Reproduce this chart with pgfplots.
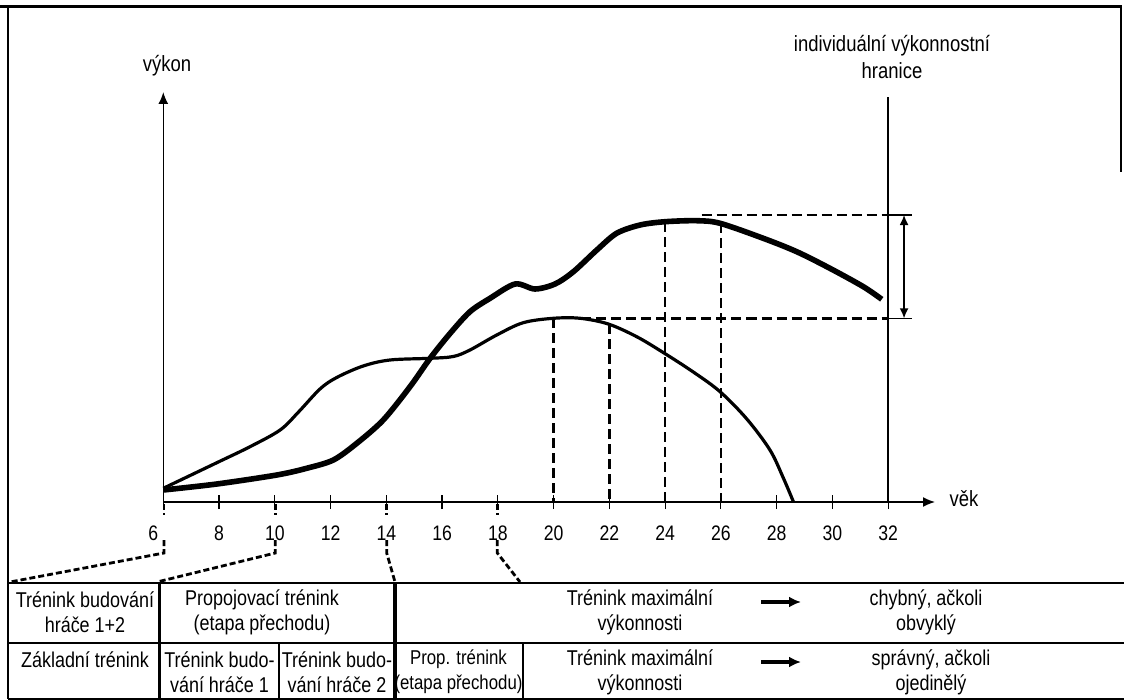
\documentclass[border=0pt]{standalone}
\usepackage{fontspec}
\setmainfont{Liberation Sans}[FakeStretch=0.84]
\usepackage{pgfplots}
\pgfplotsset{compat=1.18}
\usetikzlibrary{arrows.meta}

\begin{document}
\begin{tikzpicture}[x=0.5pt,y=-0.5pt]
\useasboundingbox (0,0) rectangle (1124,700);
% frame
\draw[line width=1.5pt] (0,7) -- (1122,7);
\draw[line width=1.2pt] (8,7) -- (8,699);
\draw[line width=0.8pt] (1121,7) -- (1121,172);

\begin{axis}[
    at={(81.65pt,-251pt)}, anchor=south west,
    width=385.85pt, height=205pt, scale only axis,
    xmin=6, xmax=33.68, ymin=0, ymax=410,
    axis x line=bottom, axis y line=left,
    axis line style={line width=0.75pt, -{Latex[length=6pt,width=5pt]}},
    xtick={6,8,...,32},
    xticklabels={\makebox[0pt][r]{6\kern2.5pt},8,10,12,14,16,18,20,22,24,26,28,30,32},
    ytick=\empty,
    tick align=center, major tick length=7pt,
    tick style={line width=0.6pt, black},
    xticklabel style={font=\fontsize{10.5}{12}\selectfont, yshift=-5pt},
    clip=false,
]
% thin curve: early specialisation
\addplot[line width=1.6pt, smooth, tension=0.55] coordinates {
  (6,13.7) (7.92,39.3) (9.11,55.3) (10.19,72) (10.85,90) (11.62,113)
  (12.22,124.5) (13.17,136) (14.13,142) (15.57,143.7) (16.40,145.5)
  (17.0,152) (17.96,167) (18.91,179.3) (19.99,183.7) (20.95,183.7)
  (21.96,178) (22.98,165.3) (23.93,149.5) (25.01,130) (25.97,110.3)
  (26.93,83) (27.76,52) (28.24,24) (28.6,0.3)
};
% thick curve: proper long-term build-up
\addplot[line width=2.8pt, smooth, tension=0.5] coordinates {
  (6,12) (7.92,18) (10.07,27) (11.14,33.7) (12.1,42) (12.94,58.7)
  (13.89,82) (14.85,115.3) (15.57,143.7) (16.29,168.7) (17.0,190.3)
  (17.72,203.7) (18.62,218) (19.33,213) (20.05,218) (20.71,230.3)
  (21.55,252) (22.26,268.7) (23.10,277) (24.0,280.3) (25.13,281.3)
  (25.97,278.7) (27.52,263.7) (28.72,250.3) (29.91,233.7) (31.11,215.3)
  (31.77,202.7)
};
% dashed reference lines
\pgfplotsset{dashref/.style={line width=1.2pt, dash pattern=on 5pt off 2.5pt}}
\addplot[dashref] coordinates {(20,183.7) (20,0)};
\addplot[dashref] coordinates {(22,178) (22,0)};
\addplot[dashref] coordinates {(24,280) (24,0)};
\addplot[dashref] coordinates {(26,278.7) (26,0)};
\addplot[dashref] coordinates {(25.31,287) (32,287)};
\addplot[dashref] coordinates {(21,183.7) (32,183.7)};
% individual performance limit
\addplot[line width=0.75pt] coordinates {(32,0) (32,405)};
\addplot[line width=0.75pt] coordinates {(32,287) (32.86,287)};
\addplot[line width=0.75pt] coordinates {(32,183.7) (32.86,183.7)};
\draw[line width=0.75pt, {Latex[length=5pt,width=4.5pt]}-{Latex[length=5pt,width=4.5pt]}]
  (axis cs:32.57,287) -- (axis cs:32.57,183.7);
\end{axis}

% axis titles
\node[font=\fontsize{11}{12}\selectfont] at (167,66) {výkon};
\node[font=\fontsize{11}{12}\selectfont] at (964,499) {věk};
\node[font=\fontsize{11}{13.5}\selectfont, align=center] at (892,57)
  {individuální výkonnostní\\hranice};

% connectors from the age axis to the table
\begin{scope}[line width=1.4pt, dash pattern=on 3pt off 1.5pt]
\draw (164,504) -- (164,515);
\draw (164,540) -- (164,553) -- (10,582);
\draw (275.3,504) -- (275.3,515);
\draw (275.3,540) -- (275.3,553) -- (157,582);
\draw (386.7,504) -- (386.7,515);
\draw (386.7,540) -- (386.7,553) -- (395,582);
\draw (497.3,504) -- (497.3,515);
\draw (497.3,540) -- (497.3,553) -- (520,582);
\end{scope}

% table
\draw[line width=1.4pt] (8,583) -- (1124,583);
\draw[line width=1.4pt] (8,643) -- (1124,643);
\draw[line width=1.4pt] (8,699) -- (1124,699);
\draw[line width=1.6pt] (159.3,583) -- (159.3,699);
\draw[line width=1.6pt] (395,583) -- (395,699);
\draw[line width=1.1pt] (279.3,643) -- (279.3,699);
\draw[line width=1.1pt] (522.7,643) -- (522.7,699);

\begin{scope}[every node/.style={font=\fontsize{10.7}{12.5}\selectfont, align=center, inner sep=0pt}]
\node at (85,612) {Trénink budování\\hráče 1+2};
\node at (262,612) {Propojovací trénink\\(etapa přechodu)};
\node at (640,612) {Trénink maximální\\výkonnosti};
\node at (926,612) {chybný, ačkoli\\obvyklý};
\node at (85,660) {Základní trénink};
\node at (219.5,672) {Trénink budo-\\vání hráče 1};
\node at (337,672) {Trénink budo-\\vání hráče 2};
\node[font=\fontsize{10}{12.5}\selectfont] at (458.5,672) {Prop. trénink\\(etapa přechodu)};
\node at (640,672) {Trénink maximální\\výkonnosti};
\node at (931,672) {správný, ačkoli\\ojedinělý};
\end{scope}
\draw[line width=1.6pt, -{Latex[length=6pt,width=5.5pt]}] (761,602) -- (801,602);
\draw[line width=1.6pt, -{Latex[length=6pt,width=5.5pt]}] (761,662) -- (801,662);
\end{tikzpicture}
\end{document}
